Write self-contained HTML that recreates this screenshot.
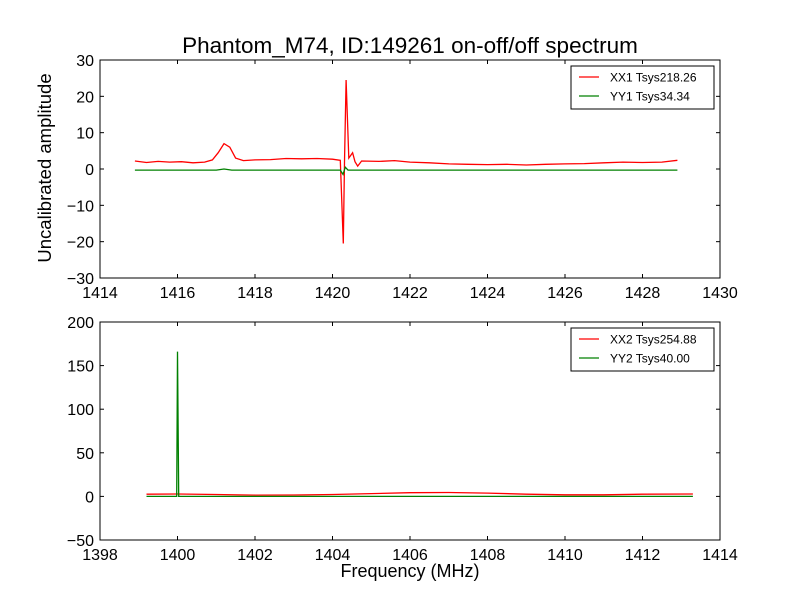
<!DOCTYPE html>
<html><head><meta charset="utf-8"><style>
body{margin:0;background:#fff}
svg text{font-family:"Liberation Sans","DejaVu Sans",sans-serif;fill:#000}
</style></head><body>
<svg id="c" width="800" height="600" xmlns="http://www.w3.org/2000/svg">
<rect width="800" height="600" fill="#fff"/>
<text x="410" y="53" font-size="22.5" text-anchor="middle">Phantom_M74, ID:149261 on-off/off spectrum</text>
<text x="410" y="577" font-size="18" text-anchor="middle">Frequency (MHz)</text>
<text transform="translate(51,168) rotate(-90)" font-size="18.5" text-anchor="middle">Uncalibrated amplitude</text>
</svg>
<script>
const topRedF=[1414.9,1415.2,1415.5,1415.8,1416.1,1416.4,1416.7,1416.9,1417.05,1417.2,1417.35,1417.5,1417.7,1418,1418.4,1418.8,1419.2,1419.6,1420.0,1420.2,1420.28,1420.31,1420.35,1420.42,1420.52,1420.58,1420.65,1420.75,1421.2,1421.6,1422,1422.5,1423,1423.5,1424,1424.5,1425,1425.5,1426,1426.5,1427,1427.5,1428,1428.5,1428.9];
const topRedV=[2.2,1.8,2.1,1.9,2.0,1.7,1.9,2.5,4.5,7.0,6.0,3.0,2.3,2.5,2.6,2.9,2.8,2.9,2.7,2.4,-20.5,2.0,24.5,3.0,4.5,2.0,0.8,2.2,2.1,2.3,1.9,1.7,1.4,1.3,1.2,1.3,1.1,1.3,1.4,1.5,1.7,1.9,1.8,1.9,2.4];
const topGreenF=[1414.9,1417.0,1417.2,1417.4,1420.2,1420.27,1420.33,1420.4,1428.9];
const topGreenV=[-0.3,-0.3,0.0,-0.3,-0.3,-1.5,0.5,-0.3,-0.3];
const botRedF=[1399.2,1400,1401,1402,1403,1404,1405,1406,1407,1408,1409,1410,1411,1412,1413.3];
const botRedV=[2.5,2.8,2.2,1.5,1.6,2.2,3.2,4.2,4.5,3.8,2.5,1.8,1.8,2.5,2.8];
const botGreenF=[1399.2,1399.98,1400.0,1400.03,1413.3];
const botGreenV=[0,0,166,0,0];
const topXTicks=[1414,1416,1418,1420,1422,1424,1426,1428,1430];
const topYTicks=[-30,-20,-10,0,10,20,30];
const botXTicks=[1398,1400,1402,1404,1406,1408,1410,1412,1414];
const botYTicks=[-50,0,50,100,150,200];
const topLegend=["XX1 Tsys218.26","YY1 Tsys34.34"];
const botLegend=["XX2 Tsys254.88","YY2 Tsys40.00"];

const NS="http://www.w3.org/2000/svg";
const svg=document.getElementById('c');
function mk(tag,attrs){const e=document.createElementNS(NS,tag);for(const k in attrs)e.setAttribute(k,attrs[k]);svg.appendChild(e);return e;}
function panel(name,top,xmin,xmax,ymin,ymax,xt,yt,series,legend){
  const L=100,R=720,T=top,B=top+218;
  const sx=v=>L+(v-xmin)/(xmax-xmin)*(R-L);
  const sy=v=>B-(v-ymin)/(ymax-ymin)*(B-T);
  series.forEach(s=>{
    const d=s.f.map((f,i)=>(i?'L':'M')+sx(f).toFixed(1)+' '+sy(s.v[i]).toFixed(1)).join(' ');
    const p=mk('path',{d:d,fill:'none',stroke:s.c,'stroke-width':1.3});
    
    
  });
  const fr=mk('rect',{x:L,y:T,width:R-L,height:B-T,fill:'none',stroke:'#000','stroke-width':1});
  
  
  xt.forEach(t=>{
    const x=sx(t);
    mk('line',{x1:x,y1:B,x2:x,y2:B-4,stroke:'#000'});
    mk('line',{x1:x,y1:T,x2:x,y2:T+4,stroke:'#000'});
    const tx=mk('text',{x:x,y:B+20,'font-size':16,'text-anchor':'middle'});
    tx.textContent=t;
    
    
  });
  yt.forEach(t=>{
    const y=sy(t);
    mk('line',{x1:L,y1:y,x2:L+4,y2:y,stroke:'#000'});
    mk('line',{x1:R,y1:y,x2:R-4,y2:y,stroke:'#000'});
    const tx=mk('text',{x:L-6,y:y+6,'font-size':16,'text-anchor':'end'});
    tx.textContent=String(t).replace('-','\u2212');
    
    
  });
  const lb=mk('rect',{x:571,y:T+6,width:143,height:43,fill:'#fff',stroke:'#000'});
  
  
  legend.forEach((lab,i)=>{
    const y=T+17+i*19;
    mk('line',{x1:579,y1:y,x2:599,y2:y,stroke:series[i].c,'stroke-width':1.3});
    const tx=mk('text',{x:610,y:y+4.5,'font-size':12});
    tx.textContent=lab;
    
    
  });
}
panel('top-panel',60,1414,1430,-30,30,topXTicks,topYTicks,
 [{n:'xx1',f:topRedF,v:topRedV,c:'#ff0000'},{n:'yy1',f:topGreenF,v:topGreenV,c:'#008000'}],topLegend);
panel('bottom-panel',322,1398,1414,-50,200,botXTicks,botYTicks,
 [{n:'xx2',f:botRedF,v:botRedV,c:'#ff0000'},{n:'yy2',f:botGreenF,v:botGreenV,c:'#008000'}],botLegend);
</script>
</body></html>
